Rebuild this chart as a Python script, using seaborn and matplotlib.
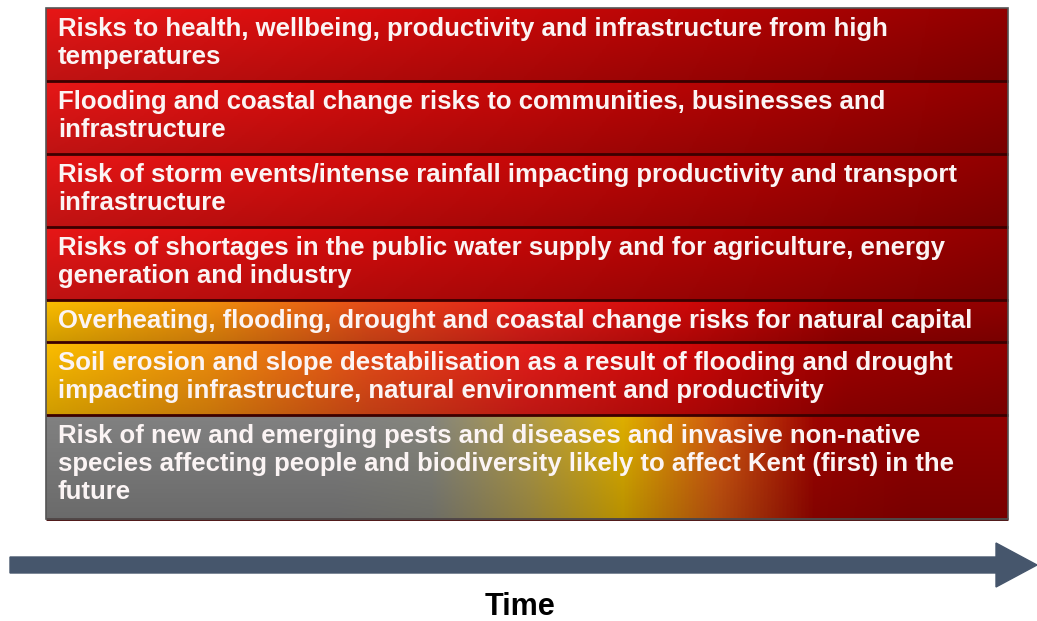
import numpy as np
import matplotlib
matplotlib.use("Agg")
import matplotlib.pyplot as plt
import seaborn as sns
from matplotlib.patches import Rectangle, FancyArrow

# rows of the risk table, top to bottom
risks = [
    "Risks to health, wellbeing, productivity and infrastructure from high\ntemperatures",
    "Flooding and coastal change risks to communities, businesses and\ninfrastructure",
    "Risk of storm events/intense rainfall impacting productivity and transport\ninfrastructure",
    "Risks of shortages in the public water supply and for agriculture, energy\ngeneration and industry",
    "Overheating, flooding, drought and coastal change risks for natural capital",
    "Soil erosion and slope destabilisation as a result of flooding and drought\nimpacting infrastructure, natural environment and productivity",
    "Risk of new and emerging pests and diseases and invasive non-native\nspecies affecting people and biodiversity likely to affect Kent (first) in the\nfuture",
]
# colour of each row along the time axis (left = now, right = later)
row_gradient = ["red", "red", "red", "red", "amber", "amber", "emerging"]
axis_label = "Time"

gradients = {
    "red": ["#de1616", "#d20e0e", "#c00808", "#a80303", "#8c0000"],
    "amber": ["#f2b600", "#e88a0c", "#de4a18", "#dc1c18", "#c80808", "#9a0000", "#8c0000"],
    "emerging": ["#7c7c7c", "#7c7c7c", "#7c7c7c", "#7c7c7c", "#808078", "#a89448",
                 "#d6a800", "#c85410", "#980400", "#8c0000", "#8c0000"],
}

sns.set_theme(style="white")
plt.rcParams['font.family'] = ['Liberation Sans', 'DejaVu Sans']

fig = plt.figure(figsize=(10.37, 6.21), dpi=100)
ax = fig.add_axes([0, 0, 1, 1])
ax.set_xlim(0, 1037)
ax.set_ylim(621, 0)
ax.axis("off")

left, right, top = 46, 1008, 8
n_lines = [r.count("\n") + 1 for r in risks]
heights = [11 + 31 * n for n in n_lines]

shade = np.linspace(1.04, 0.86, 40)[:, None, None]
y = top
for text, kind, h in zip(risks, row_gradient, heights):
    cmap = sns.blend_palette(gradients[kind], as_cmap=True)
    rgb = cmap(np.linspace(0, 1, 512))[None, :, :3]
    img = np.clip(rgb * shade, 0, 1)
    ax.imshow(img, extent=[left, right, y + h, y], aspect="auto",
              interpolation="bilinear", zorder=1)
    ax.text(left + 12, y + 9, text, color="#fbf4f4", fontsize=18.5,
            fontweight="bold", va="top", ha="left", linespacing=1.22, zorder=3)
    y += h
    ax.plot([left, right], [y, y], color="#3c0000", lw=2, zorder=2,
            solid_capstyle="butt")

ax.add_patch(Rectangle((left, top), right - left, y - top, fill=False,
                       edgecolor="#555555", lw=1.2, zorder=4))

ax.add_patch(FancyArrow(10, 565, 1027, 0, width=16, head_width=44,
                        head_length=41, length_includes_head=True,
                        color="#46566c", zorder=2))
ax.text(520, 607, axis_label, fontsize=22, fontweight="bold",
        ha="center", va="center", color="black")

fig.savefig("out.png", dpi=100)
